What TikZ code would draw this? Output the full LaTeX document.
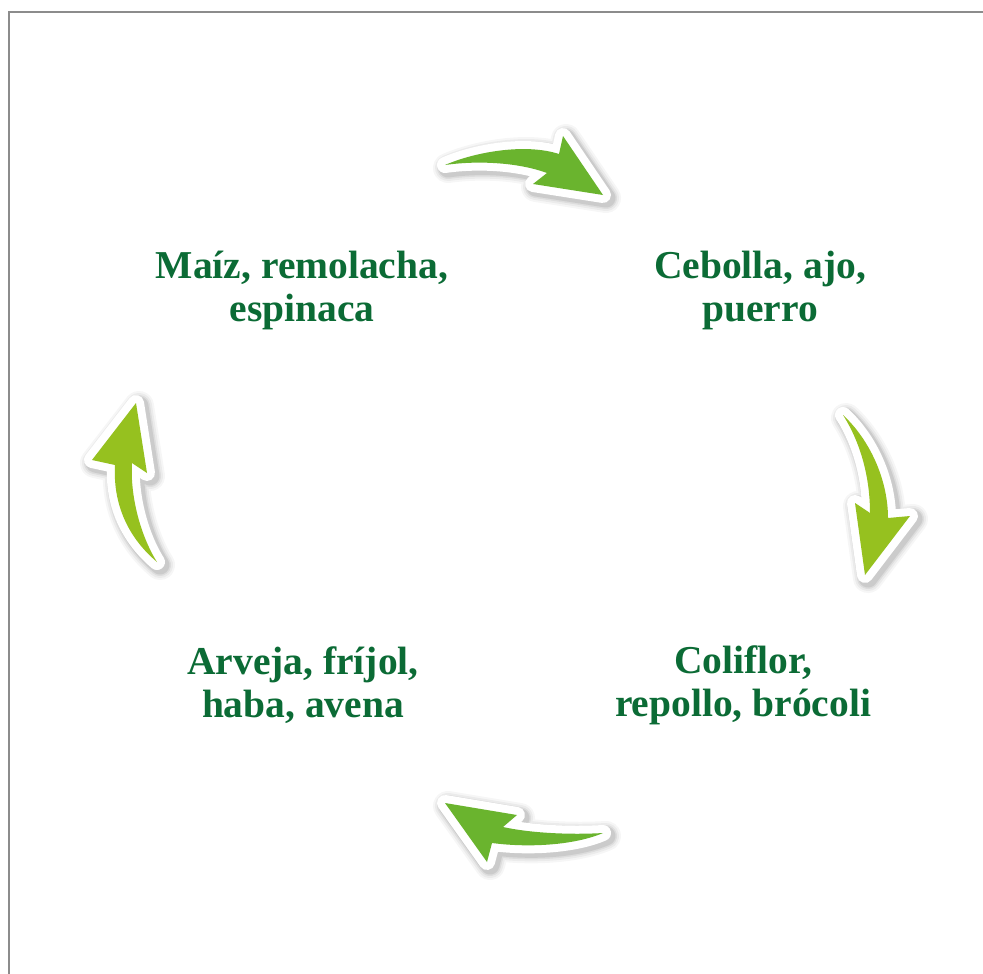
\documentclass[tikz,border=0pt]{standalone}
\usepackage{fontspec}
\setmainfont{Liberation Serif}
\definecolor{txtgreen}{RGB}{11,107,53}
\definecolor{arrgreen}{RGB}{106,180,46}
\definecolor{arrlime}{RGB}{150,193,31}
\definecolor{framegray}{RGB}{140,140,140}
\tikzset{
  lbl/.style={text=txtgreen, font=\fontsize{39.5}{43}\selectfont\bfseries, align=center},
}
\newcommand{\fancyarrow}[2]{%
  \foreach \w/\o in {30/0.035,26/0.045,22/0.06,19/0.08}{%
    \path[draw=black, draw opacity=\o, line width=\w pt, line join=round, line cap=round, fill=black, fill opacity=\o, shift={(3,3)}] #1;}
  \path[draw=white, line width=16pt, line join=round, fill=white] #1;
  \path[fill=#2] #1;
}
\begin{document}
\begin{tikzpicture}[x=1pt,y=-1pt]
\useasboundingbox (0,0) rectangle (983,974);
\fill[white] (0,0) rectangle (983,974);
\draw[framegray, line width=2pt] (9,974) -- (9,12.5) -- (983,12.5);
% arrows
\fancyarrow{(445,165) .. controls (475,152) and (525,143) .. (559,154) -- (563,136) -- (603,195) -- (533,184) -- (547,173) .. controls (520,163) and (480,160) .. (445,165) -- cycle}{arrgreen}
\fancyarrow{(843,415) .. controls (870,440) and (888,480) .. (888,518) -- (910,516) -- (865,575) -- (855,503) -- (870,513) .. controls (870,480) and (862,445) .. (843,415) -- cycle}{arrlime}
\fancyarrow{(445,803) -- (517,815) -- (503,827) .. controls (530,833) and (570,835) .. (603,833) .. controls (575,845) and (530,848) .. (492,843) -- (487,862) -- cycle}{arrgreen}
\fancyarrow{(136,403) -- (147,473) -- (132,463) .. controls (130,495) and (140,535) .. (157,562) .. controls (125,535) and (113,500) .. (115,465) -- (92,460) -- cycle}{arrlime}
% labels
\node[lbl] (maiz) at (302,290) {Maíz, remolacha,\\espinaca};
\node[lbl] (cebolla) at (760,290) {Cebolla, ajo,\\puerro};
\node[lbl] (coliflor) at (743,685) {Coliflor,\\repollo, brócoli};
\node[lbl] (arveja) at (303,685) {Arveja, fríjol,\\haba, avena};
\end{tikzpicture}
\end{document}
